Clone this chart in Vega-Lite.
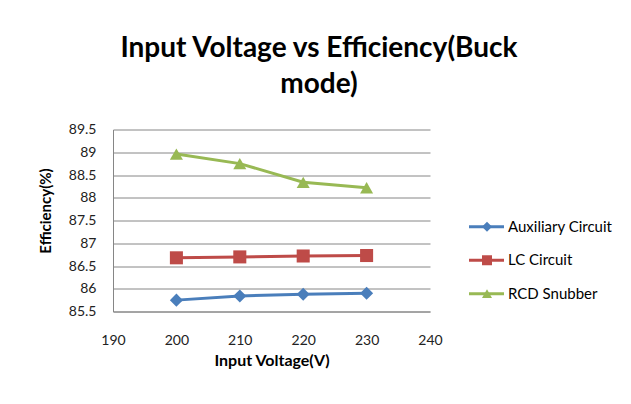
{
  "$schema": "https://vega.github.io/schema/vega-lite/v6.json",
  "width": 317,
  "height": 182,
  "autosize": {"type": "none"},
  "padding": {"left": 113, "top": 129.5, "right": 201, "bottom": 92.5},
  "background": "white",
  "title": {
    "text": ["Input Voltage vs Efficiency(Buck", "mode)"],
    "font": "Lato",
    "fontSize": 28,
    "fontWeight": "bold",
    "color": "#000000",
    "lineHeight": 36,
    "anchor": "middle",
    "frame": "group",
    "dx": 47.5,
    "offset": 2,
    "baseline": "alphabetic"
  },
  "config": {"view": {"stroke": null}, "font": "Lato"},
  "data": {
    "values": [
      {"series": "Auxiliary Circuit", "voltage": 200, "efficiency": 85.75},
      {"series": "Auxiliary Circuit", "voltage": 210, "efficiency": 85.84},
      {"series": "Auxiliary Circuit", "voltage": 220, "efficiency": 85.88},
      {"series": "Auxiliary Circuit", "voltage": 230, "efficiency": 85.9},
      {"series": "LC Circuit", "voltage": 200, "efficiency": 86.68},
      {"series": "LC Circuit", "voltage": 210, "efficiency": 86.7},
      {"series": "LC Circuit", "voltage": 220, "efficiency": 86.72},
      {"series": "LC Circuit", "voltage": 230, "efficiency": 86.73},
      {"series": "RCD Snubber", "voltage": 200, "efficiency": 88.96},
      {"series": "RCD Snubber", "voltage": 210, "efficiency": 88.75},
      {"series": "RCD Snubber", "voltage": 220, "efficiency": 88.34},
      {"series": "RCD Snubber", "voltage": 230, "efficiency": 88.22}
    ]
  },
  "encoding": {
    "x": {
      "field": "voltage",
      "type": "quantitative",
      "scale": {"domain": [190, 240], "nice": false, "zero": false},
      "axis": {
        "title": "Input Voltage(V)",
        "values": [190, 200, 210, 220, 230, 240],
        "format": "d",
        "grid": false,
        "ticks": false,
        "domainColor": "#868686",
        "domainWidth": 1,
        "labelFont": "Lato",
        "labelFontSize": 14,
        "labelColor": "#222222",
        "labelPadding": 22,
        "labelFlush": false,
        "titleFont": "Lato",
        "titleFontSize": 16,
        "titleFontWeight": "bold",
        "titleColor": "#000000",
        "titleY": 54,
        "titleBaseline": "alphabetic"
      }
    },
    "y": {
      "field": "efficiency",
      "type": "quantitative",
      "scale": {"domain": [85.5, 89.5], "nice": false, "zero": false},
      "axis": {
        "title": "Efficiency(%)",
        "values": [85.5, 86, 86.5, 87, 87.5, 88, 88.5, 89, 89.5],
        "format": ".1~f",
        "grid": true,
        "gridColor": "#868686",
        "gridWidth": 1,
        "ticks": false,
        "domainColor": "#868686",
        "domainWidth": 1,
        "labelFont": "Lato",
        "labelFontSize": 14,
        "labelColor": "#222222",
        "labelPadding": 17,
        "titleFont": "Lato",
        "titleFontSize": 15,
        "titleFontWeight": "bold",
        "titleColor": "#000000",
        "titleX": -68,
        "titleY": 81,
        "titleAngle": -90,
        "titleAlign": "center",
        "titleBaseline": "middle"
      }
    }
  },
  "layer": [
    {
      "mark": {"type": "line", "strokeWidth": 3},
      "encoding": {
        "stroke": {
          "field": "series",
          "type": "nominal",
          "scale": {
            "domain": ["Auxiliary Circuit", "LC Circuit", "RCD Snubber"],
            "range": ["#4A7EBB", "#BE4B48", "#98B954"]
          },
          "legend": {
            "title": null,
            "orient": "none",
            "legendX": 354.5,
            "legendY": 87.2,
            "symbolType": "stroke",
            "symbolSize": 1225,
            "symbolStrokeWidth": 3,
            "clipHeight": 20,
            "rowPadding": 13.5,
            "padding": 0,
            "zindex": 0,
            "labelFont": "Lato",
            "labelFontSize": 15,
            "labelColor": "#000000",
            "labelOffset": 2.5
          }
        }
      }
    },
    {
      "mark": {"type": "point", "filled": true, "opacity": 1, "size": 170},
      "encoding": {
        "color": {
          "field": "series",
          "type": "nominal",
          "scale": {"range": ["#4A7EBB", "#BE4B48", "#98B954"]},
          "legend": {
            "title": null,
            "orient": "none",
            "legendX": 366.5,
            "legendY": 87.2,
            "symbolSize": 100,
            "symbolStrokeWidth": 0,
            "symbolOpacity": 1,
            "clipHeight": 20,
            "rowPadding": 13.5,
            "padding": 0,
            "zindex": 1,
            "labelFont": "Lato",
            "labelFontSize": 15,
            "labelExpr": "''"
          }
        },
        "shape": {
          "field": "series",
          "type": "nominal",
          "scale": {"range": ["diamond", "square", "triangle-up"]},
          "legend": {
            "title": null,
            "orient": "none",
            "legendX": 366.5,
            "legendY": 87.2,
            "symbolSize": 100,
            "symbolStrokeWidth": 0,
            "symbolOpacity": 1,
            "clipHeight": 20,
            "rowPadding": 13.5,
            "padding": 0,
            "zindex": 1,
            "labelFont": "Lato",
            "labelFontSize": 15,
            "labelExpr": "''"
          }
        }
      }
    }
  ]
}
